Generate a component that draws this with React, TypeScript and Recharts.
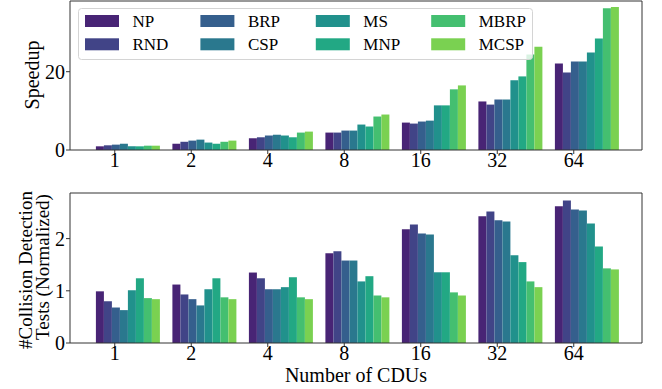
import React from "react";
import { BarChart, Bar, XAxis, YAxis, CartesianGrid } from "recharts";

const cdus = ["1", "2", "4", "8", "16", "32", "64"];
const seriesNames = ["NP", "RND", "BRP", "CSP", "MS", "MNP", "MBRP", "MCSP"];
const seriesColors = ["#482475", "#414487", "#355f8d", "#2a788e", "#21918c", "#22a884", "#44bf70", "#7ad151"];

// Speedup (top panel)
const spNP = [0.94, 1.6, 3.0, 4.45, 7.0, 12.4, 22.1];
const spRND = [1.2, 2.1, 3.25, 4.45, 6.75, 11.6, 19.8];
const spBRP = [1.37, 2.4, 3.7, 4.96, 7.27, 12.9, 22.6];
const spCSP = [1.6, 2.65, 3.9, 4.96, 7.5, 12.9, 22.6];
const spMS = [0.94, 1.9, 3.7, 6.5, 11.4, 17.8, 24.9];
const spMNP = [0.94, 1.6, 3.25, 6.0, 11.4, 18.8, 28.5];
const spMBRP = [1.1, 2.1, 4.45, 8.55, 15.5, 24.4, 36.2];
const spMCSP = [1.1, 2.4, 4.7, 9.06, 16.5, 26.4, 36.5];

// #Collision detection tests, normalized (bottom panel)
const tNP = [0.99, 1.12, 1.35, 1.72, 2.18, 2.43, 2.62];
const tRND = [0.8, 0.93, 1.24, 1.76, 2.27, 2.52, 2.73];
const tBRP = [0.68, 0.84, 1.03, 1.58, 2.1, 2.35, 2.56];
const tCSP = [0.63, 0.72, 1.03, 1.58, 2.08, 2.33, 2.54];
const tMS = [1.01, 1.03, 1.07, 1.18, 1.355, 1.68, 2.29];
const tMNP = [1.24, 1.24, 1.26, 1.28, 1.355, 1.55, 1.85];
const tMBRP = [0.86, 0.875, 0.875, 0.91, 0.97, 1.18, 1.43];
const tMCSP = [0.84, 0.84, 0.84, 0.875, 0.91, 1.07, 1.41];

const speedupTicks = [0, 20];
const testTicks = [0, 1, 2];

const speedupSeries = [spNP, spRND, spBRP, spCSP, spMS, spMNP, spMBRP, spMCSP];
const testSeries = [tNP, tRND, tBRP, tCSP, tMS, tMNP, tMBRP, tMCSP];

const buildRows = (series: number[][]) =>
  cdus.map((c, i) => {
    const row: Record<string, any> = { cdu: c };
    seriesNames.forEach((n, k) => (row[n] = series[k][i]));
    return row;
  });

const speedupData = buildRows(speedupSeries);
const testData = buildRows(testSeries);

const FONT = "Liberation Serif, Times New Roman, serif";
const AXIS = "#333";

const XTick = (props: any) => {
  const { x, y, payload } = props;
  const ax = y - 4;
  const tx = x - 12;
  return (
    <g>
      <line x1={tx} x2={tx} y1={ax} y2={ax + 4} stroke={AXIS} strokeWidth={1} />
      <text x={tx} y={ax + 17} textAnchor="middle" fontSize={20} style={{ fontFamily: FONT }} fill="#000">
        {payload.value}
      </text>
    </g>
  );
};

const YTick = (props: any) => {
  const { x, y, payload } = props;
  return (
    <text x={x} y={y + 7} textAnchor="end" fontSize={20} style={{ fontFamily: FONT }} fill="#000">
      {payload.value}
    </text>
  );
};

const commonBars = () =>
  seriesNames.map((n, k) => (
    <Bar key={n} dataKey={n} fill={seriesColors[k]} isAnimationActive={false} />
  ));

const Panel = ({ data, height, top, marginTop, xHeight, domainMax, ticks, label, title }: any) => (
  <div style={{ position: "absolute", left: 0, top, width: 662, height }}>
    <BarChart
      width={662}
      height={height}
      data={data}
      margin={{ top: marginTop, right: 20, left: 0, bottom: 0 }}
      barCategoryGap={7.4}
      barGap={0}
    >
      <CartesianGrid
        stroke={AXIS}
        strokeOpacity={1}
        horizontalCoordinatesGenerator={({ offset }: any) => [offset.top]}
        verticalCoordinatesGenerator={({ offset }: any) => [offset.left + offset.width]}
      />
      <XAxis
        dataKey="cdu"
        height={xHeight}
        padding={{ left: 18.5, right: 18 }}
        stroke={AXIS}
        tickLine={false}
        tickSize={4}
        tickMargin={0}
        tick={<XTick />}
        interval={0}
        label={title ? { content: title } : undefined}
      />
      <YAxis
        width={70}
        domain={[0, domainMax]}
        ticks={ticks}
        stroke={AXIS}
        tickSize={4}
        tickMargin={1}
        tick={<YTick />}
        label={{ content: label }}
      />
      {commonBars()}
    </BarChart>
  </div>
);

const SpeedupLabel = () => (
  <text transform="translate(38.5,75) rotate(-90)" textAnchor="middle" fontSize={20} style={{ fontFamily: FONT }} fill="#000">
    Speedup
  </text>
);

const TestsLabel = () => (
  <g>
    <text transform="translate(32,80) rotate(-90)" textAnchor="middle" fontSize={19} style={{ fontFamily: FONT }} fill="#000">
      #Collision Detection
    </text>
    <text transform="translate(49,77) rotate(-90)" textAnchor="middle" fontSize={19} style={{ fontFamily: FONT }} fill="#000">
      Tests (Normalized)
    </text>
  </g>
);

const XTitle = () => (
  <text x={356} y={191.5} textAnchor="middle" fontSize={20} style={{ fontFamily: FONT }} fill="#000">
    Number of CDUs
  </text>
);

const LegendOverlay = () => (
  <svg width={662} height={389} style={{ position: "absolute", left: 0, top: 0, pointerEvents: "none" }}>
    <rect x={78.5} y={8.5} width={454} height={51} rx={3} fill="#fff" fillOpacity={0.8} stroke="#d4d4d4" />
    {seriesNames.map((n, k) => {
      const col = Math.floor(k / 2);
      const row = k % 2;
      const sx = 85 + col * 115.4;
      const sy = 15 + row * 23.3;
      return (
        <g key={n}>
          <rect x={sx} y={sy} width={34} height={12} fill={seriesColors[k]} />
          <text x={sx + 47.5} y={sy + 12} fontSize={17} style={{ fontFamily: FONT }} fill="#000">
            {n}
          </text>
        </g>
      );
    })}
  </svg>
);

export default function App() {
  return (
    <div style={{ position: "absolute", left: 0, top: 0, width: 662, height: 389, background: "#fff", fontFamily: FONT }}>
      <Panel
        data={speedupData}
        height={175}
        top={0}
        marginTop={1}
        xHeight={25}
        domainMax={38.06}
        ticks={speedupTicks}
        label={SpeedupLabel}
        title={null}
      />
      <Panel
        data={testData}
        height={199}
        top={190}
        marginTop={3}
        xHeight={46}
        domainMax={2.874}
        ticks={testTicks}
        label={TestsLabel}
        title={XTitle}
      />
      <LegendOverlay />
    </div>
  );
}
